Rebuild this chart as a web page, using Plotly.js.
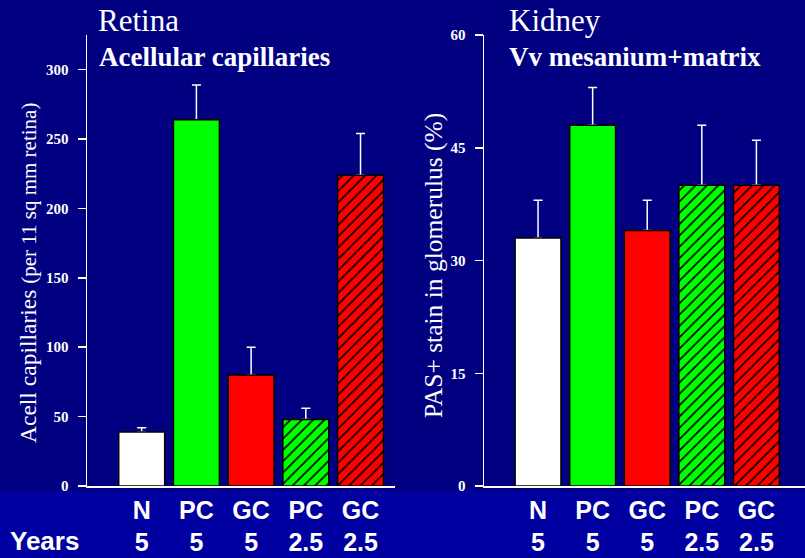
<!DOCTYPE html>
<html>
<head>
<meta charset="utf-8">
<script src="https://cdn.plot.ly/plotly-3.0.1.min.js"></script>
<style>html,body{margin:0;padding:0;background:#000080;}#chart{width:805px;height:558px;}</style>
</head>
<body>
<div id="chart"></div>
<script>
// ---- data ----
var groups = ['N', 'PC', 'GC', 'PC', 'GC'];
var years = ['5', '5', '5', '2.5', '2.5'];
var retinaValues = [39, 264, 80, 48, 224];
var retinaErrors = [3, 25, 20, 8, 30];
var kidneyValues = [33, 48, 34, 40, 40];
var kidneyErrors = [5, 5, 4, 8, 6];
var retinaTicks = [0, 50, 100, 150, 200, 250, 300];
var kidneyTicks = [0, 15, 30, 45, 60];

// ---- styles ----
var fills = ['#ffffff', '#00ff00', '#ff0000', '#00ff00', '#ff0000'];
var hatched = [false, false, false, true, true];
var serif = 'Liberation Serif, Times New Roman, serif';
var sans = 'Liberation Sans, Arial, sans-serif';

var idx = groups.map(function (_, i) { return i; });
var tickText = groups.map(function (g, i) { return g + '<br>' + years[i]; });
var BAR_W = 0.84;

// error bars (upward only) on an invisible bar trace, drawn first
function makeErrTrace(values, errors, xa, ya) {
  return {
    type: 'bar', x: idx, y: values, xaxis: xa, yaxis: ya, width: BAR_W,
    marker: { color: 'rgba(0,0,0,0)', line: { width: 0 } },
    error_y: {
      type: 'data', symmetric: false, array: errors,
      arrayminus: errors.map(function () { return 0; }),
      color: '#ffffff', thickness: 1.5, width: 4.5
    },
    hoverinfo: 'skip', showlegend: false
  };
}
// one trace per bar so every bar gets its own solid colour / hatch
function makeBarTraces(values, xa, ya) {
  return idx.map(function (i) {
    var m = { color: fills[i], line: { color: '#000000', width: 1.5 } };
    if (hatched[i]) {
      m.pattern = { shape: '/', fgcolor: '#000000', bgcolor: fills[i], fgopacity: 1,
                    fillmode: 'replace', size: 8, solidity: 0.2 };
    }
    return {
      type: 'bar', x: [i], y: [values[i]], xaxis: xa, yaxis: ya, width: BAR_W,
      marker: m, hoverinfo: 'y', showlegend: false
    };
  });
}

var H = 558, W = 805;
function py(pix) { return (H - pix) / H; }
function px(pix) { return pix / W; }

var xCommon = {
  type: 'linear',
  tickmode: 'array',
  tickvals: idx,
  ticktext: tickText,
  ticks: '',
  showgrid: false,
  zeroline: false,
  showline: true,
  linecolor: '#ffffff',
  linewidth: 1.5,
  tickfont: { family: sans, size: 25, color: '#ffffff', weight: 'bold' },
  ticklabelstandoff: 1,
  fixedrange: true
};
var yCommon = {
  showgrid: false,
  zeroline: false,
  showline: true,
  linecolor: '#ffffff',
  linewidth: 1.5,
  ticks: 'outside',
  ticklen: 8,
  tickwidth: 1.5,
  tickcolor: '#ffffff',
  tickfont: { family: serif, size: 15, color: '#ffffff', weight: 'bold' },
  ticklabelstandoff: 6,
  fixedrange: true
};

var layout = {
  width: W,
  height: H,
  margin: { l: 0, r: 0, t: 0, b: 0 },
  paper_bgcolor: '#000080',
  plot_bgcolor: 'rgba(0,0,0,0)',
  barmode: 'overlay',
  xaxis: Object.assign({}, xCommon, { domain: [px(87), px(395)], range: [-1.0, 4.63], anchor: 'y' }),
  yaxis: Object.assign({}, yCommon, { domain: [py(486), py(35)], range: [0, 325], tickvals: retinaTicks, anchor: 'x' }),
  xaxis2: Object.assign({}, xCommon, { domain: [px(484), 1], range: [-0.99, 4.89], anchor: 'y2' }),
  yaxis2: Object.assign({}, yCommon, { domain: [py(486), py(35)], range: [0, 60], tickvals: kidneyTicks, anchor: 'x2' }),
  shapes: [{
    type: 'rect', xref: 'paper', yref: 'paper', layer: 'below',
    x0: 0, x1: 1, y0: 0, y1: py(491),
    fillcolor: '#0000a0', line: { width: 0 }
  }],
  annotations: [
    { text: 'Retina', xref: 'paper', yref: 'paper', x: px(96), y: py(20), xanchor: 'left', yanchor: 'middle', showarrow: false,
      font: { family: serif, size: 31, color: '#ffffff' } },
    { text: '<b>Acellular capillaries</b>', xref: 'paper', yref: 'paper', x: px(97), y: py(57), xanchor: 'left', yanchor: 'middle', showarrow: false,
      font: { family: serif, size: 27, color: '#ffffff' } },
    { text: 'Kidney', xref: 'paper', yref: 'paper', x: px(507), y: py(20), xanchor: 'left', yanchor: 'middle', showarrow: false,
      font: { family: serif, size: 31, color: '#ffffff' } },
    { text: '<b>Vv mesanium+matrix</b>', xref: 'paper', yref: 'paper', x: px(507), y: py(57), xanchor: 'left', yanchor: 'middle', showarrow: false,
      font: { family: serif, size: 27, color: '#ffffff' } },
    { text: 'Acell capillaries <span style="font-size:21px">(per 11 sq mm retina)</span>', xref: 'paper', yref: 'paper',
      x: px(28), y: py(273), xanchor: 'center', yanchor: 'middle', textangle: -90, showarrow: false,
      font: { family: serif, size: 23.5, color: '#ffffff' } },
    { text: 'PAS+ stain in glomerulus (%)', xref: 'paper', yref: 'paper',
      x: px(434), y: py(266), xanchor: 'center', yanchor: 'middle', textangle: -90, showarrow: false,
      font: { family: serif, size: 25.5, color: '#ffffff' } },
    { text: 'Years', xref: 'paper', yref: 'paper', x: px(8), y: py(541), xanchor: 'left', yanchor: 'middle', showarrow: false,
      font: { family: sans, size: 26, color: '#ffffff', weight: 'bold' } }
  ]
};

var traces = [makeErrTrace(retinaValues, retinaErrors, 'x', 'y')]
  .concat(makeBarTraces(retinaValues, 'x', 'y'))
  .concat([makeErrTrace(kidneyValues, kidneyErrors, 'x2', 'y2')])
  .concat(makeBarTraces(kidneyValues, 'x2', 'y2'));

Plotly.newPlot('chart', traces, layout, { displayModeBar: false, staticPlot: true });
</script>
</body>
</html>
